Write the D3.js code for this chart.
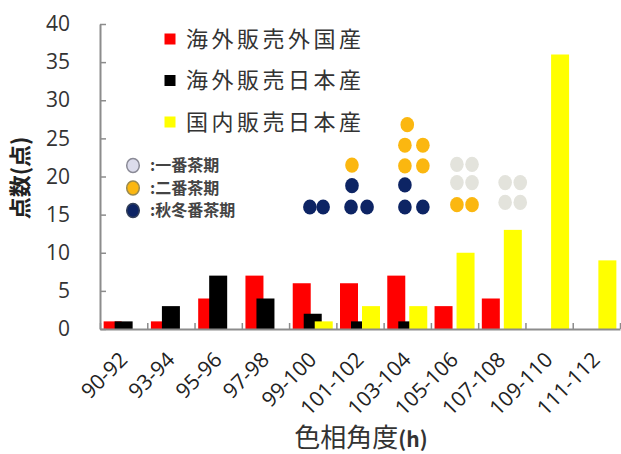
<!DOCTYPE html>
<html>
<head>
<meta charset="utf-8">
<script src="https://cdn.jsdelivr.net/npm/d3@7"></script>
<style>
  body { margin: 0; background: #fff; }
  svg { display: block; }
</style>
</head>
<body>
<svg id="chart" width="621" height="454"></svg>
<script>
// Hue-angle classes (h) on the category axis
const categories = ["90-92", "93-94", "95-96", "97-98", "99-100", "101-102",
                    "103-104", "105-106", "107-108", "109-110", "111-112"];

// Number of samples per class
const overseasForeign = [1, 1, 4, 7, 6, 6, 7, 3, 4, 0, 0];   // 海外販売外国産
const overseasJapan   = [1, 3, 7, 4, 2, 1, 1, 0, 0, 0, 0];   // 海外販売日本産
const domesticJapan   = [0, 0, 0, 0, 1, 3, 3, 10, 13, 36, 9]; // 国内販売日本産

const seriesNames  = ["海外販売外国産", "海外販売日本産", "国内販売日本産"];
const seriesColors = ["#ff0000", "#000000", "#ffff00"];

const yTicks = [0, 5, 10, 15, 20, 25, 30, 35, 40];

// Picking-season markers: [position on the class axis, 点]
const firstFlush = [[7.55, 19.2], [7.87, 19.2], [7.55, 21.6], [7.87, 21.6],
                    [8.57, 16.6], [8.89, 16.6], [8.57, 19.2], [8.89, 19.2]];
const secondFlush = [[5.33, 21.5], [6.45, 21.4], [6.83, 21.4], [6.45, 24.1],
                     [6.83, 24.1], [6.50, 26.8], [7.55, 16.3], [7.87, 16.3]];
const autumnWinter = [[4.44, 16.0], [4.72, 16.0], [5.31, 16.0], [5.65, 16.0],
                      [5.33, 18.8], [6.45, 16.0], [6.83, 16.0], [6.45, 18.9]];

const periodNames = ["一番茶期", "二番茶期", "秋冬番茶期"];

// ---------------------------------------------------------------
const svg = d3.select("#chart");
const plot = { left: 100, right: 620, top: 24, bottom: 329 };
const axisColor = "#8c8c8c";
const textColor = "#333";
const cjk = "'Noto Sans CJK JP', 'Noto Sans', sans-serif";
const latin = "'Open Sans', 'Noto Sans', sans-serif";

const x = d3.scaleBand().domain(categories).range([plot.left, plot.right]).padding(0);
const xPos = d3.scaleLinear().domain([0, categories.length]).range([plot.left, plot.right]);
const y = d3.scaleLinear().domain([0, 40]).range([plot.bottom, plot.top]);

// Clustered bars with overlap
const barW = 18, barStep = 11;
const groupPad = (x.bandwidth() - (barStep * 2 + barW)) / 2;
const series = [overseasForeign, overseasJapan, domesticJapan];

series.forEach((vals, si) => {
  svg.append("g")
    .selectAll("rect")
    .data(categories.map((c, i) => ({ c, v: vals[i] })).filter(d => d.v > 0))
    .join("rect")
      .attr("x", d => x(d.c) + groupPad + si * barStep)
      .attr("y", d => y(d.v))
      .attr("width", barW)
      .attr("height", d => y(0) - y(d.v))
      .attr("fill", seriesColors[si]);
});

// Y axis
const yAxis = svg.append("g")
  .attr("transform", `translate(${plot.left},0)`)
  .call(d3.axisLeft(y).tickValues(yTicks).tickSize(-6).tickSizeOuter(0).tickPadding(30));
yAxis.select(".domain").attr("stroke", axisColor).attr("stroke-width", 2);
yAxis.selectAll(".tick line").attr("stroke", axisColor).attr("stroke-width", 1.5);
yAxis.selectAll(".tick text")
  .attr("fill", textColor)
  .style("font-family", latin)
  .style("font-size", "21px");

// X axis: boundary ticks between classes
const xAxis = svg.append("g")
  .attr("transform", `translate(0,${plot.bottom})`)
  .call(d3.axisBottom(xPos).tickValues(d3.range(0, categories.length + 1))
          .tickSize(-6).tickSizeOuter(0).tickFormat(""));
xAxis.select(".domain").attr("stroke", axisColor).attr("stroke-width", 2);
xAxis.selectAll(".tick line").attr("stroke", axisColor).attr("stroke-width", 1.5);

// X class labels, rotated, ending under each class centre
svg.append("g")
  .selectAll("text")
  .data(categories)
  .join("text")
    .attr("transform", d => `translate(${x(d) + x.bandwidth() / 2 + 5},361) rotate(-45)`)
    .attr("text-anchor", "end")
    .attr("fill", "#222")
    .style("font-family", latin)
    .style("font-size", "21px")
    .text(d => d);

// Axis titles
svg.append("text")
  .attr("x", 361).attr("y", 447)
  .attr("text-anchor", "middle")
  .attr("fill", textColor)
  .style("font-family", cjk)
  .style("font-size", "26px")
  .html('色相角度<tspan font-weight="bold" font-size="21px">(h)</tspan>');

svg.append("text")
  .attr("transform", "translate(28,178) rotate(-90)")
  .attr("text-anchor", "middle")
  .attr("fill", "#222")
  .style("font-family", cjk)
  .style("font-size", "22px")
  .style("font-weight", "bold")
  .text("点数(点)");

// Season markers
const markerStyles = [
  { data: firstFlush,   fill: "#e3e3dc", legendFill: "#dcdcec", legendStroke: "#8a8a96" },
  { data: secondFlush,  fill: "#fbb710", legendFill: "#fbb710", legendStroke: "#9a8a50" },
  { data: autumnWinter, fill: "#0d2464", legendFill: "#0d2464", legendStroke: "#33405a" }
];
markerStyles.forEach(m => {
  svg.append("g")
    .selectAll("ellipse")
    .data(m.data)
    .join("ellipse")
      .attr("cx", d => xPos(d[0]))
      .attr("cy", d => y(d[1]))
      .attr("rx", 6.8)
      .attr("ry", 7.6)
      .attr("fill", m.fill);
});

// Bar legend
const legend = svg.append("g");
seriesNames.forEach((name, i) => {
  const cy = 39 + i * 41.5;
  legend.append("rect")
    .attr("x", 164.5).attr("y", cy - 5.5)
    .attr("width", 11).attr("height", 11)
    .attr("fill", seriesColors[i]);
  legend.append("text")
    .attr("x", 186).attr("y", cy)
    .attr("dy", "0.35em")
    .attr("fill", textColor)
    .style("font-family", cjk)
    .style("font-size", "22px")
    .style("letter-spacing", "3.5px")
    .text(name);
});

// Season legend
const seasonLegend = svg.append("g");
periodNames.forEach((name, i) => {
  const cy = 165.5 + i * 22.5;
  seasonLegend.append("ellipse")
    .attr("cx", 133).attr("cy", cy)
    .attr("rx", 6.3).attr("ry", 7)
    .attr("fill", markerStyles[i].legendFill)
    .attr("stroke", markerStyles[i].legendStroke)
    .attr("stroke-width", 1.5);
  seasonLegend.append("text")
    .attr("x", 150).attr("y", cy)
    .attr("dy", "0.36em")
    .attr("fill", "#444")
    .style("font-family", cjk)
    .style("font-size", "16px")
    .style("font-weight", "bold")
    .text(":" + name);
});
</script>
</body>
</html>
